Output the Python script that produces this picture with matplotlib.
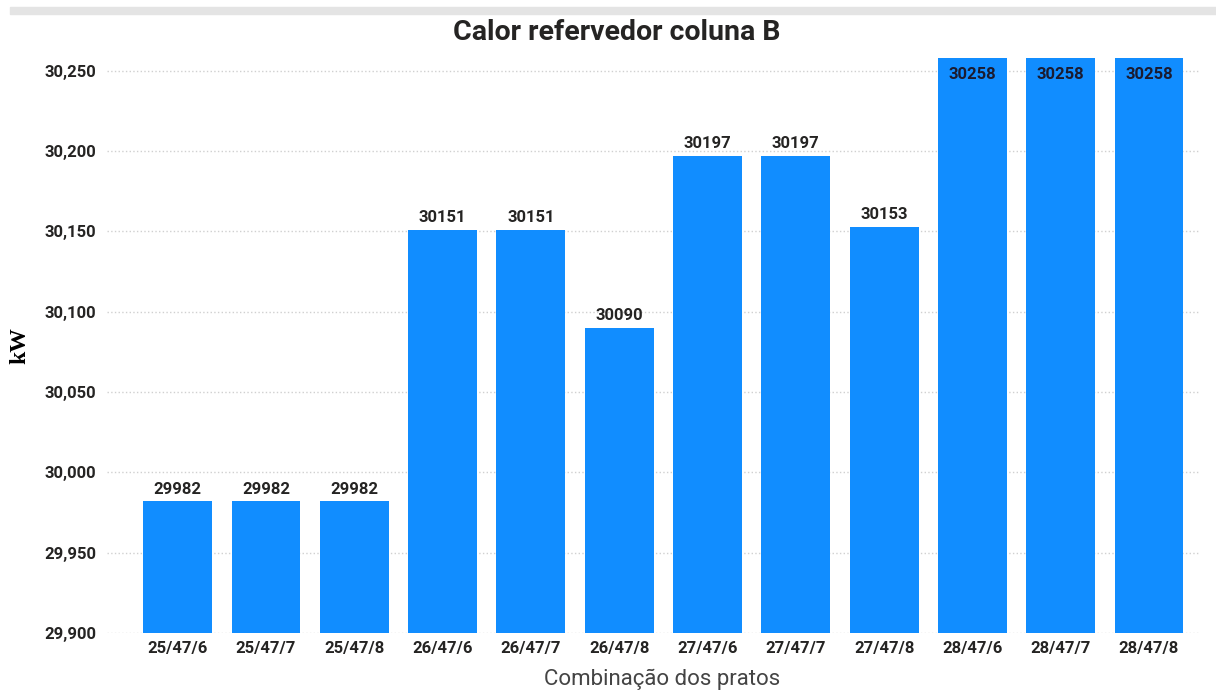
import numpy as np
import matplotlib.pyplot as plt
from matplotlib.patches import Rectangle
from matplotlib.ticker import FuncFormatter

# dados do grafico
combinacoes = ['25/47/6', '25/47/7', '25/47/8', '26/47/6', '26/47/7', '26/47/8',
               '27/47/6', '27/47/7', '27/47/8', '28/47/6', '28/47/7', '28/47/8']
calor_kw = [29982, 29982, 29982, 30151, 30151, 30090,
            30197, 30197, 30153, 30258, 30258, 30258]
y_ticks = [29900, 29950, 30000, 30050, 30100, 30150, 30200, 30250]

plt.rcParams['font.family'] = ['Roboto', 'DejaVu Sans']

fig = plt.figure(figsize=(12.16, 6.9), dpi=100)
ax = fig.add_axes([0.088, 0.0826, 0.899, 0.8334])

# faixa cinza no topo
fig.patches.append(Rectangle((0.008, 0.98), 0.992, 0.01, transform=fig.transFigure,
                             color='#e4e4e4', zorder=0))

x = np.arange(len(combinacoes))
ax.bar(x, calor_kw, width=0.78, color='#118DFF', zorder=2)

ymin, ymax = 29900, 30258
ax.set_ylim(ymin, ymax)
ax.set_xlim(-0.8, 11.58)

for xi, v in zip(x, calor_kw):
    if v >= ymax - 10:
        ax.text(xi, v - 10, str(v), ha='center', va='center', fontsize=12,
                fontweight='bold', color='#1b1b2f', zorder=3)
    else:
        ax.text(xi, v + 7.5, str(v), ha='center', va='center', fontsize=12,
                fontweight='bold', color='#252423', zorder=3)

ax.set_yticks(y_ticks)
ax.yaxis.set_major_formatter(FuncFormatter(lambda v, p: f'{int(v):,}'))
ax.set_xticks(x)
ax.set_xticklabels(combinacoes)
ax.tick_params(axis='both', length=0, labelsize=12, colors='#252423')
ax.tick_params(axis='y', pad=8)
ax.tick_params(axis='x', pad=6)
for lab in ax.get_xticklabels() + ax.get_yticklabels():
    lab.set_fontweight('bold')

ax.grid(axis='y', linestyle=':', color='#d0d0d0', linewidth=1, zorder=0)
for s in ax.spines.values():
    s.set_visible(False)

ax.set_title('Calor refervedor coluna B', fontsize=20.5, fontweight='bold',
             color='#252423', pad=13, x=0.466)
ax.set_xlabel('Combinação dos pratos', fontsize=16, color='#444444', labelpad=3)
ax.xaxis.set_label_coords(0.508, -0.062)
ax.set_ylabel('kW', fontsize=17, fontweight='bold', family='Liberation Serif',
              color='black', labelpad=10)

fig.savefig('out.png', dpi=100)
